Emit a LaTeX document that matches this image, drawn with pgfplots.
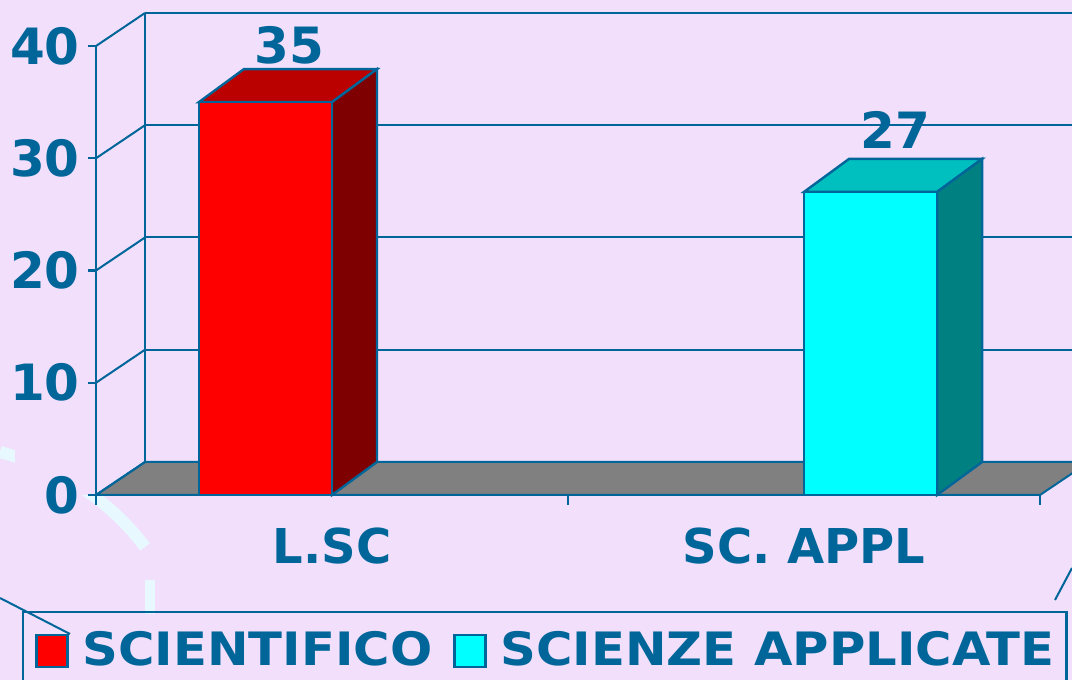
\documentclass[border=0pt]{standalone}
\usepackage{pgfplots}
\pgfplotsset{compat=1.18}
\usepackage{fontspec}
\setmainfont{DejaVu Sans}
\newfontfamily\legf{DejaVu Sans}[FakeStretch=1.08]
\definecolor{bg}{HTML}{F2DFFC}
\definecolor{ln}{HTML}{006699}
\definecolor{wm}{HTML}{E8F8FF}
\definecolor{flr}{HTML}{808080}
\definecolor{rfront}{HTML}{FF0000}
\definecolor{rtop}{HTML}{BB0000}
\definecolor{rside}{HTML}{7F0000}
\definecolor{cfront}{HTML}{00FFFF}
\definecolor{ctop}{HTML}{00BFBF}
\definecolor{cside}{HTML}{008080}
\newcommand\tickf{\fontsize{25}{30}\selectfont\bfseries}
\newcommand\catf{\fontsize{24}{29}\selectfont\bfseries}
\begin{document}
\begin{tikzpicture}[x=0.5pt,y=0.5pt]
\path[use as bounding box] (0,0) rectangle (1072,680);
\clip (0,0) rectangle (1072,680);
\fill[bg] (0,0) rectangle (1072,680);
\draw[wm, line width=6pt] (0,228) .. controls (60,212) and (110,180) .. (145,133);
\fill[wm] (145,100) rectangle (155,66);
\fill[bg] (15,185) rectangle (1072,680);
\draw[ln, line width=1pt] (0,82) -- (70,46);
\draw[ln, line width=1pt] (1055,80) -- (1072,112);
\begin{axis}[
  at={(48pt,92.5pt)}, anchor=south west, scale only axis,
  width=472pt, height=224.5pt,
  xmin=0, xmax=2, ymin=0, ymax=40, clip=false,
  separate axis lines, axis x line*=bottom, axis y line*=left,
  axis line style={ln, line width=1.4pt},
  ytick={0,10,20,30,40},
  xtick={0.5,1.5}, xticklabels={L.SC, SC. APPL},
  xtick style={draw=none}, ytick style={ln, line width=1.2pt},
  tick align=outside, major tick length=4pt,
  yticklabel style={font=\tickf, text=ln, inner sep=0pt, xshift=-4pt},
  xticklabel style={font=\catf, text=ln, inner sep=0pt, yshift=-12pt},
  /pgf/number format/assume math mode=true,
  legend style={at={(-0.0784,-0.2584)}, anchor=north west, draw=ln,
    line width=1.2pt, fill=none, legend columns=2,
    font=\legf\fontsize{23}{28}\selectfont\bfseries, text=ln,
    inner xsep=6pt, inner ysep=9.5pt, nodes={inner sep=0pt},
    /tikz/every odd column/.append style={column sep=7pt},
    /tikz/every even column/.append style={column sep=10.5pt}},
  legend cell align=left,
  legend image code/.code={\draw[#1, line width=1.2pt] (0pt,-8.5pt) rectangle (15.5pt,7.5pt);},
]
% floor
\addplot[fill=flr, draw=ln, line width=1pt, forget plot] coordinates {(0,0) (2,0) (2.1038,2.94) (0.1038,2.94)} -- cycle;
% back wall grid lines
\addplot[ln, line width=1pt, forget plot] coordinates {(0.1038,2.94) (2.3,2.94)};
\addplot[ln, line width=1pt, forget plot] coordinates {(0.1038,12.94) (2.3,12.94)};
\addplot[ln, line width=1pt, forget plot] coordinates {(0.1038,22.94) (2.3,22.94)};
\addplot[ln, line width=1pt, forget plot] coordinates {(0.1038,32.94) (2.3,32.94)};
\addplot[ln, line width=1pt, forget plot] coordinates {(0.1038,42.94) (2.3,42.94)};
% side wall
\addplot[ln, line width=1pt, forget plot] coordinates {(0.1038,2.94) (0.1038,42.94)};
\addplot[ln, line width=1pt, forget plot] coordinates {(0,0) (0.1038,2.94)};
\addplot[ln, line width=1pt, forget plot] coordinates {(0,10) (0.1038,12.94)};
\addplot[ln, line width=1pt, forget plot] coordinates {(0,20) (0.1038,22.94)};
\addplot[ln, line width=1pt, forget plot] coordinates {(0,30) (0.1038,32.94)};
\addplot[ln, line width=1pt, forget plot] coordinates {(0,40) (0.1038,42.94)};
% x ticks
\addplot[ln, line width=1.2pt, forget plot] coordinates {(0,0) (0,-0.9)};
\addplot[ln, line width=1.2pt, forget plot] coordinates {(1,0) (1,-0.9)};
\addplot[ln, line width=1.2pt, forget plot] coordinates {(2,0) (2,-0.9)};
% bar 1: SCIENTIFICO, L.SC = 35
\addplot[fill=rtop, draw=ln, line width=1.2pt, forget plot] coordinates {(0.218,35) (0.5,35) (0.5953,37.94) (0.3133,37.94)} -- cycle;
\addplot[fill=rside, draw=ln, line width=1.2pt, forget plot] coordinates {(0.5,0) (0.5953,2.94) (0.5953,37.94) (0.5,35)} -- cycle;
\addplot[fill=rfront, draw=ln, line width=1.2pt] coordinates {(0.218,0) (0.5,0) (0.5,35) (0.218,35)} -- cycle;
\addlegendentry{SCIENTIFICO}
% bar 2: SCIENZE APPLICATE, SC. APPL = 27
\addplot[fill=ctop, draw=ln, line width=1.2pt, forget plot] coordinates {(1.5,27) (1.782,27) (1.8773,29.94) (1.5953,29.94)} -- cycle;
\addplot[fill=cside, draw=ln, line width=1.2pt, forget plot] coordinates {(1.782,0) (1.8773,2.94) (1.8773,29.94) (1.782,27)} -- cycle;
\addplot[fill=cfront, draw=ln, line width=1.2pt] coordinates {(1.5,0) (1.782,0) (1.782,27) (1.5,27)} -- cycle;
\addlegendentry{SCIENZE APPLICATE}
% value labels
\addplot[draw=none, mark=none, forget plot, nodes near coords, point meta=explicit symbolic,
  every node near coord/.append style={anchor=south, inner sep=0pt, font=\tickf, text=ln, yshift=19pt}]
  coordinates {(0.41,35)[35] (1.693,27.45)[27]};
\end{axis}
\end{tikzpicture}
\end{document}
